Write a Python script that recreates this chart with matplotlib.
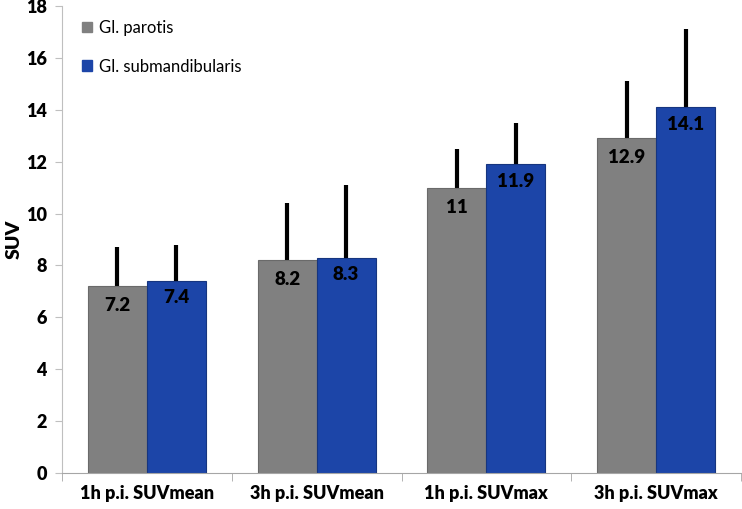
import matplotlib
matplotlib.use("Agg")
import matplotlib.pyplot as plt
from matplotlib.patches import Patch
import numpy as np

categories = ["1h p.i. SUVmean", "3h p.i. SUVmean", "1h p.i. SUVmax", "3h p.i. SUVmax"]
series_names = ["Gl. parotis", "Gl. submandibularis"]
parotis = [7.2, 8.2, 11.0, 12.9]
submand = [7.4, 8.3, 11.9, 14.1]
parotis_err = [1.5, 2.2, 1.5, 2.2]
submand_err = [1.4, 2.8, 1.6, 3.0]
value_labels_parotis = ["7.2", "8.2", "11", "12.9"]
value_labels_submand = ["7.4", "8.3", "11.9", "14.1"]
yticks = [0, 2, 4, 6, 8, 10, 12, 14, 16, 18]

plt.rcParams['font.family'] = ['Lato', 'DejaVu Sans']

W, H = 742, 509
fig = plt.figure(figsize=(W / 100, H / 100), dpi=100)
ax = fig.add_axes([62 / W, (H - 473) / H, (741 - 62) / W, (473 - 6) / H])

x = np.arange(len(categories))
bw = 0.347
gray = "#808080"
blue = "#1c45a8"

ax.bar(x - bw / 2, parotis, bw, color=gray, edgecolor="#6a6a6a", linewidth=0.8, zorder=2)
ax.bar(x + bw / 2, submand, bw, color=blue, edgecolor="#16357f", linewidth=0.8, zorder=2)

ax.errorbar(x - bw / 2, parotis, yerr=[np.zeros(4), parotis_err], fmt="none",
            ecolor="black", elinewidth=3, capsize=0, zorder=1)
ax.errorbar(x + bw / 2, submand, yerr=[np.zeros(4), submand_err], fmt="none",
            ecolor="black", elinewidth=3, capsize=0, zorder=1)

for xi, v, lab in zip(x - bw / 2, parotis, value_labels_parotis):
    ax.annotate(lab, (xi, v), xytext=(0, -8), textcoords="offset points",
                ha="center", va="top", fontsize=13.5, fontweight="heavy", color="black", zorder=3)
for xi, v, lab in zip(x + bw / 2, submand, value_labels_submand):
    ax.annotate(lab, (xi, v), xytext=(0, -6), textcoords="offset points",
                ha="center", va="top", fontsize=13.5, fontweight="heavy", color="black", zorder=3)

ax.set_xlim(-0.5, len(categories) - 0.5)
ax.set_ylim(0, 18)
ax.set_yticks(yticks)
ax.set_yticklabels([str(t) for t in yticks], fontsize=13, fontweight="heavy")
ax.set_xticks(x)
ax.set_xticklabels(categories, fontsize=13, fontweight="heavy")
ax.set_xticks(np.arange(-0.5, len(categories), 1.0), minor=True)
ax.tick_params(axis="x", which="major", length=0, pad=9)
ax.tick_params(axis="x", which="minor", length=6, color="#a6a6a6", direction="out")
ax.tick_params(axis="y", length=5, color="#bfbfbf", direction="out", pad=6)

for s in ["top", "right"]:
    ax.spines[s].set_visible(False)
ax.spines["left"].set_color("#bfbfbf")
ax.spines["bottom"].set_color("#a6a6a6")

ax.set_ylabel("SUV", fontsize=14, fontweight="heavy")
ax.yaxis.set_label_coords(-0.058, 0.5)

handles = [Patch(facecolor=gray, edgecolor=gray), Patch(facecolor=blue, edgecolor=blue)]
ax.legend(handles, series_names, loc="upper left", bbox_to_anchor=(0.008, 1.002),
          frameon=False, fontsize=12, handlelength=0.6, handleheight=0.6,
          handletextpad=0.4, labelspacing=1.35)

fig.savefig("out.png", dpi=100)
